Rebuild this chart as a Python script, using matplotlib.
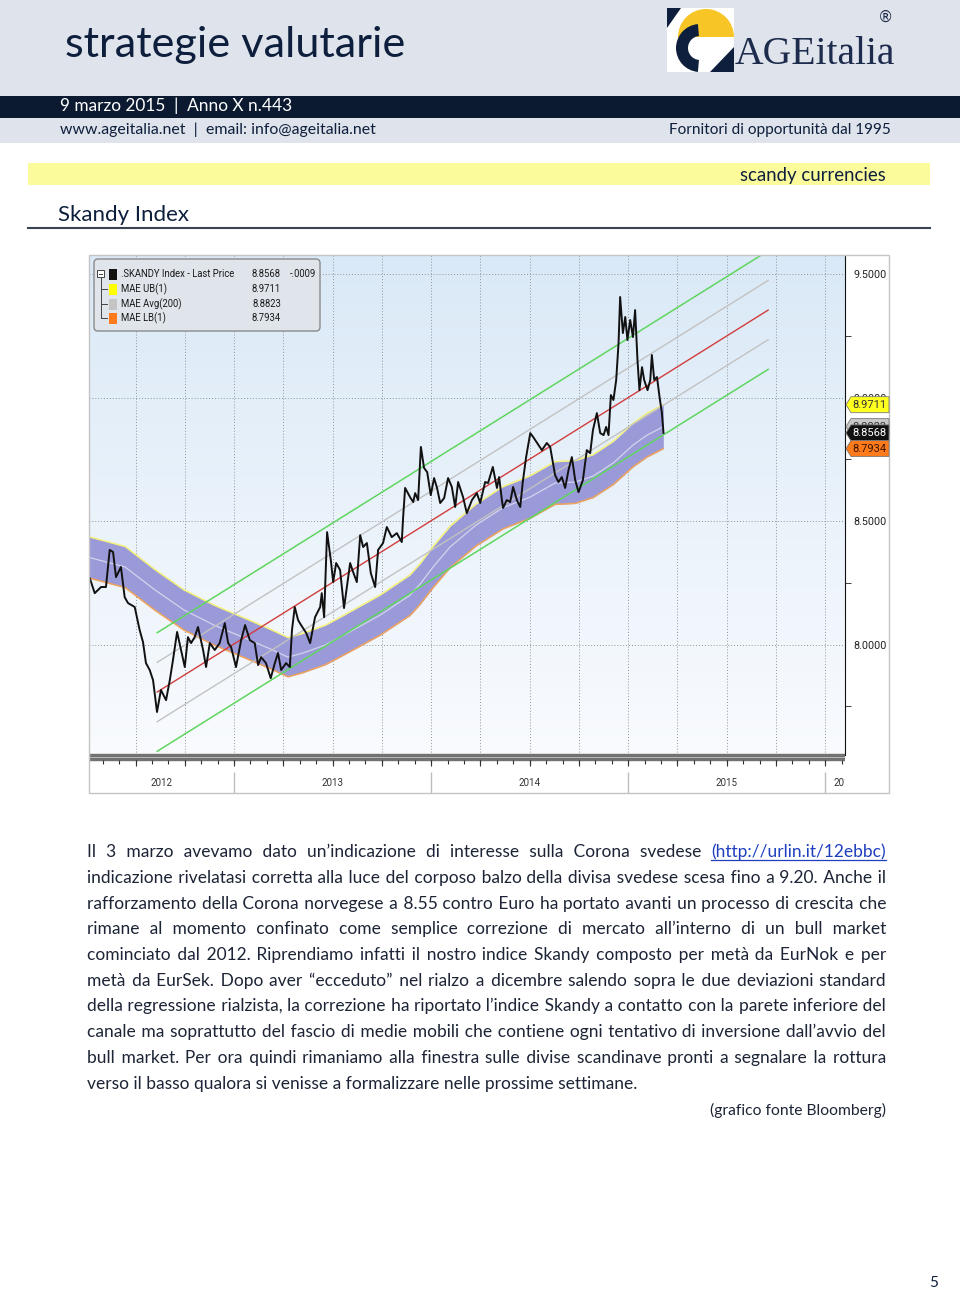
import numpy as np
import matplotlib
matplotlib.use("Agg")
import matplotlib.pyplot as plt
from matplotlib.colors import LinearSegmentedColormap
from matplotlib.patches import Rectangle, FancyBboxPatch, Wedge, Polygon

# ---------------------------------------------------------------
# Data (decimal year, index level)
# ---------------------------------------------------------------
skandy = [
    (2012.268, 8.269), (2012.293, 8.208), (2012.325, 8.233), (2012.350, 8.233),
    (2012.369, 8.383), (2012.386, 8.375), (2012.401, 8.273), (2012.426, 8.314),
    (2012.445, 8.192), (2012.462, 8.168), (2012.496, 8.152), (2012.521, 8.059),
    (2012.538, 8.010), (2012.553, 7.925), (2012.572, 7.897), (2012.589, 7.856),
    (2012.609, 7.727), (2012.629, 7.816), (2012.655, 7.775), (2012.674, 7.856),
    (2012.690, 7.937), (2012.711, 8.051), (2012.731, 7.978), (2012.750, 7.909),
    (2012.766, 8.030), (2012.782, 8.006), (2012.800, 8.030), (2012.817, 8.071),
    (2012.843, 7.978), (2012.858, 7.909), (2012.877, 8.006), (2012.902, 7.978),
    (2012.927, 8.006), (2012.953, 8.087), (2012.970, 8.006), (2012.985, 7.990),
    (2013.010, 7.909), (2013.036, 8.018), (2013.056, 8.079), (2013.080, 8.018),
    (2013.105, 8.006), (2013.122, 7.917), (2013.137, 7.949), (2013.162, 7.925),
    (2013.186, 7.864), (2013.207, 7.925), (2013.223, 7.966), (2013.239, 7.897),
    (2013.264, 7.925), (2013.283, 7.909), (2013.294, 8.059), (2013.308, 8.152),
    (2013.325, 8.099), (2013.340, 8.079), (2013.366, 8.047), (2013.386, 8.006),
    (2013.411, 8.111), (2013.437, 8.152), (2013.445, 8.208), (2013.457, 8.111),
    (2013.472, 8.455), (2013.491, 8.342), (2013.503, 8.253), (2013.518, 8.330),
    (2013.538, 8.302), (2013.558, 8.148), (2013.572, 8.229), (2013.589, 8.330),
    (2013.604, 8.294), (2013.623, 8.253), (2013.640, 8.443), (2013.655, 8.395),
    (2013.674, 8.411), (2013.694, 8.289), (2013.716, 8.233), (2013.731, 8.383),
    (2013.756, 8.411), (2013.775, 8.476), (2013.800, 8.435), (2013.826, 8.451),
    (2013.851, 8.415), (2013.858, 8.516), (2013.868, 8.634), (2013.893, 8.597),
    (2013.909, 8.577), (2013.919, 8.613), (2013.934, 8.585), (2013.948, 8.800),
    (2013.964, 8.715), (2013.980, 8.698), (2013.998, 8.605), (2014.015, 8.674),
    (2014.030, 8.634), (2014.046, 8.573), (2014.066, 8.593), (2014.086, 8.674),
    (2014.105, 8.638), (2014.122, 8.557), (2014.137, 8.658), (2014.162, 8.597),
    (2014.181, 8.532), (2014.207, 8.585), (2014.232, 8.613), (2014.249, 8.573),
    (2014.274, 8.658), (2014.289, 8.654), (2014.313, 8.719), (2014.334, 8.634),
    (2014.345, 8.678), (2014.359, 8.585), (2014.365, 8.553), (2014.384, 8.585),
    (2014.401, 8.577), (2014.416, 8.638), (2014.435, 8.585), (2014.452, 8.557),
    (2014.465, 8.658), (2014.482, 8.759), (2014.503, 8.856), (2014.518, 8.840),
    (2014.538, 8.816), (2014.562, 8.787), (2014.587, 8.816), (2014.604, 8.800),
    (2014.618, 8.735), (2014.629, 8.686), (2014.646, 8.658), (2014.663, 8.678),
    (2014.680, 8.634), (2014.697, 8.706), (2014.714, 8.759), (2014.731, 8.666),
    (2014.748, 8.617), (2014.770, 8.666), (2014.790, 8.787), (2014.807, 8.775),
    (2014.821, 8.868), (2014.841, 8.937), (2014.858, 8.856), (2014.875, 8.848),
    (2014.888, 8.881), (2014.900, 8.848), (2014.912, 9.010), (2014.925, 8.990),
    (2014.939, 9.071), (2014.951, 9.221), (2014.959, 9.407), (2014.973, 9.261),
    (2014.985, 9.326), (2014.996, 9.233), (2015.010, 9.314), (2015.024, 9.245),
    (2015.035, 9.354), (2015.047, 9.152), (2015.057, 9.030), (2015.070, 9.123),
    (2015.081, 9.071), (2015.098, 9.030), (2015.112, 9.071), (2015.120, 9.172),
    (2015.132, 9.071), (2015.146, 9.083), (2015.159, 9.002), (2015.171, 8.937),
    (2015.179, 8.857),
]

# MAE Avg(200) with the +/-1% envelope (UB(1) / LB(1))
mae_avg = [
    (2012.259, 8.354), (2012.447, 8.314), (2012.599, 8.221), (2012.746, 8.140),
    (2012.898, 8.079), (2013.056, 8.026), (2013.173, 7.986), (2013.274, 7.949),
    (2013.350, 7.966), (2013.462, 7.998), (2013.538, 8.030), (2013.741, 8.119),
    (2013.893, 8.200), (2013.944, 8.245), (2014.010, 8.314), (2014.096, 8.395),
    (2014.228, 8.484), (2014.365, 8.554), (2014.502, 8.597), (2014.629, 8.654),
    (2014.731, 8.658), (2014.822, 8.682), (2014.924, 8.735), (2015.025, 8.808),
    (2015.096, 8.848), (2015.178, 8.882),
]
mae_pct = 0.01

# regression channel: centre line, +/-1 and +/-2 standard deviations
reg_t = [2012.61, 2015.71]
reg_mid = [7.808, 9.354]
reg_sd = 0.12

price_ticks = [8.0, 8.5, 9.0, 9.5]
price_minor = [7.75, 8.25, 8.75, 9.25]
years = [2012, 2013, 2014, 2015, 2016]

legend_names = [".SKANDY Index - Last Price", "MAE UB(1)", "MAE Avg(200)", "MAE LB(1)"]
legend_values = ["8.8568", "8.9711", "8.8823", "8.7934"]
legend_colors = ["#111111", "#ffff00", "#c4c4c4", "#ff7a1a"]
last_change = "-.0009"

# right-hand value tags (drawn in this order, last on top)
tag_values = [8.8823, 8.9711, 8.8568, 8.7934]
tag_fills = ["#c8c8c8", "#ffff20", "#111111", "#ff7a1a"]
tag_text = ["#333333", "#333333", "#ffffff", "#3a1500"]

body_lines = [
    "Il 3 marzo avevamo dato un’indicazione di interesse sulla Corona svedese (http://urlin.it/12ebbc)",
    "indicazione rivelatasi corretta alla luce del corposo balzo della divisa svedese scesa fino a 9.20. Anche il",
    "rafforzamento della Corona norvegese a 8.55 contro Euro ha portato avanti un processo di crescita che",
    "rimane al momento confinato come semplice correzione di mercato all’interno di un bull market",
    "cominciato dal 2012. Riprendiamo infatti il nostro indice Skandy composto per metà da EurNok e per",
    "metà da EurSek. Dopo aver “ecceduto” nel rialzo a dicembre salendo sopra le due deviazioni standard",
    "della regressione rialzista, la correzione ha riportato l’indice Skandy a contatto con la parete inferiore del",
    "canale ma soprattutto del fascio di medie mobili che contiene ogni tentativo di inversione dall’avvio del",
    "bull market. Per ora quindi rimaniamo alla finestra sulle divise scandinave pronti a segnalare la rottura",
    "verso il basso qualora si venisse a formalizzare nelle prossime settimane.",
]
link_text = "(http://urlin.it/12ebbc)"

# ---------------------------------------------------------------
W, H = 960, 1290
NAVY = "#0d1f3c"
NARROW = "Roboto"
SANS = "Lato"
BODY_FAM = ["Lato", "DejaVu Sans"]
HAIR = "\u200a"

fig = plt.figure(figsize=(W / 100, H / 100), dpi=100, facecolor="white")
renderer = fig.canvas.get_renderer()


def frac(x0, y0, x1, y1):
    return [x0 / W, 1 - y1 / H, (x1 - x0) / W, (y1 - y0) / H]


def width_of(s, **kw):
    t = fig.text(0, 0, s, **kw)
    w = t.get_window_extent(renderer).width
    t.remove()
    return w


def size_for(s, width, family, base=12, **kw):
    return base * width / width_of(s, fontsize=base, family=family, **kw)


# ---------------- chart area ----------------
t0, t1 = 2012.264, 2016.10
ax = fig.add_axes(frac(89, 255, 845, 755))
grad = LinearSegmentedColormap.from_list("bg", ["#f9fbfe", "#dae9f7"])
ax.imshow(np.linspace(0, 1, 256).reshape(-1, 1), cmap=grad, origin="lower",
          extent=[0, 1, 0, 1], transform=ax.transAxes, aspect="auto", zorder=0)
ax.set_xlim(t0, t1)
ax.set_ylim(7.553, 9.577)

quarters = np.arange(2012.5, t1, 0.25)
for q in quarters:
    ax.axvline(q, color="#8e959c", lw=0.7, ls=(0, (1, 2)), zorder=1)
for p in price_ticks:
    ax.axhline(p, color="#8e959c", lw=0.7, ls=(0, (1, 2)), zorder=1)

ma_t = np.array([p[0] for p in mae_avg])
ma_v = np.array([p[1] for p in mae_avg])
ub, lb = ma_v * (1 + mae_pct), ma_v * (1 - mae_pct)
ax.fill_between(ma_t, lb, ub, color="#9a9ad9", lw=0, zorder=2)
ax.plot(ma_t, ub, color="#f4f07a", lw=1.1, zorder=2.2)
ax.plot(ma_t, lb, color="#f0a35a", lw=1.1, zorder=2.2)
ax.plot(ma_t, ma_v, color="#d4d4ec", lw=0.9, zorder=2.2)

rt, rm = np.array(reg_t), np.array(reg_mid)
for k, col, lw in [(2, "#5fd65f", 1.1), (1, "#c2c2c2", 1.0), (0, "#d23c3c", 1.0),
                   (-1, "#c2c2c2", 1.0), (-2, "#5fd65f", 1.1)]:
    ax.plot(rt, rm + k * reg_sd, color=col, lw=lw, zorder=3)

px_t = [p[0] for p in skandy]
px_v = [p[1] for p in skandy]
ax.plot(px_t, px_v, color="#111111", lw=1.4, zorder=4)

for s in ["top", "bottom", "left"]:
    ax.spines[s].set_visible(False)
ax.spines["right"].set_color("#111111")
ax.set_xticks([])
ax.yaxis.tick_right()
ax.set_yticks(price_ticks)
lab_fs = size_for("9.5000", 33, NARROW)
ax.set_yticklabels([f"{p:.4f}" for p in price_ticks])
for lab in ax.get_yticklabels():
    lab.set_family(NARROW)
    lab.set_fontsize(lab_fs)
    lab.set_color("#222222")
ax.set_yticks(price_minor, minor=True)
ax.tick_params(axis="y", which="major", length=0, pad=6)
ax.tick_params(axis="y", which="minor", length=4, color="#222222")

# date strip under the plot
axd = fig.add_axes(frac(89, 753, 845, 793))
axd.set_xlim(t0, t1)
axd.set_ylim(793, 753)
axd.axis("off")
axd.axhspan(754, 760, color="#727272")
axd.axhline(757, color="#d6d6d6", lw=0.5)
months = np.arange(2012 + 4 / 12, t1, 1 / 12)
axd.vlines(months, 760, 764, color="#333333", lw=0.8)
axd.vlines(quarters, 760, 766, color="#333333", lw=0.8)
axd.vlines([y for y in years if t0 < y < t1], 772, 793, color="#bdbdbd", lw=1)
yr_fs = size_for("2012", 22, NARROW)
for y in years:
    lo, hi = max(y, t0), min(y + 1, t1 + 0.1)
    axd.text((lo + hi) / 2, 783, str(y), ha="center", va="center", fontsize=yr_fs,
             family=NARROW, color="#333333", clip_on=True)

# ---------------- page overlay ----------------
page = fig.add_axes([0, 0, 1, 1], zorder=10)
page.set_xlim(0, W)
page.set_ylim(H, 0)
page.axis("off")


def fitted(s, x, y, width, family=SANS, ha="left", color=NAVY, **kw):
    fs = size_for(s, width, family, **kw)
    return page.text(x, y, s, fontsize=fs, family=family, ha=ha, va="center",
                     color=color, **kw)


# header
page.add_patch(Rectangle((0, 0), W, 96, fc="#dfe3eb", ec="none"))
page.add_patch(Rectangle((0, 96), W, 22, fc="#0b1a31", ec="none"))
page.add_patch(Rectangle((0, 118), W, 25, fc="#dfe3eb", ec="none"))
fitted("strategie valutarie", 65, 45, 340)
fitted("9 marzo 2015  |  Anno X n.443", 60, 106, 231, color="white")
fitted("www.ageitalia.net  |  email: info@ageitalia.net", 60, 130, 314)
fitted("Fornitori di opportunità dal 1995", 891, 130, 221, ha="right")

# logo
page.add_patch(Rectangle((667, 8), 67, 64, fc="white", ec="none"))
page.add_patch(Wedge((706, 37), 28, 180, 360, fc="#f7c526", ec="none"))
page.add_patch(Wedge((700, 48), 24, 95, 265, width=12, fc=NAVY, ec="none"))
page.add_patch(Polygon([(710, 72), (734, 72), (734, 47)], fc=NAVY, ec="none"))
page.add_patch(Polygon([(667, 8), (681, 8), (667, 28)], fc=NAVY, ec="none"))
fitted("AGEitalia", 735, 55, 160, family="Liberation Serif", color="#1d2b4c")
page.text(885, 17, "®", fontsize=11, ha="center", va="center", color="#1d2b4c")

# section heading
page.add_patch(Rectangle((28, 163), 902, 22, fc="#fbfb9c", ec="none"))
fitted("scandy currencies", 886, 175, 146, ha="right")
fitted("Skandy Index", 58, 215, 130)
page.plot([28, 930], [228, 228], color="#3a4352", lw=1.5)

# chart frame
page.add_patch(Rectangle((89, 255), 800, 538, fill=False, ec="#c4c4c4", lw=1))

# legend box
page.add_patch(FancyBboxPatch((94, 259), 226, 72, boxstyle="round,pad=0,rounding_size=4",
                              fc="#e0e5eb", ec="#8a8a8a", lw=1))
leg_fs = min(size_for(legend_names[0], 122, NARROW), size_for("8.8568", 29, NARROW))
rows_y = [274, 289, 304, 318]
page.add_patch(Rectangle((97, 270), 7, 7, fc="white", ec="#444444", lw=0.7))
page.plot([99, 102], [273.5, 273.5], color="#444444", lw=0.7)
page.plot([100.5, 100.5], [277, rows_y[-1]], color="#444444", lw=0.7)
for y in rows_y[1:]:
    page.plot([100.5, 107], [y, y], color="#444444", lw=0.7)
for y, name, val, col in zip(rows_y, legend_names, legend_values, legend_colors):
    page.add_patch(Rectangle((109, y - 5.5), 8, 11, fc=col, ec="none"))
    page.text(121, y, name, fontsize=leg_fs, family=NARROW, va="center", color="#1a1a1a")
    page.text(281, y, val, fontsize=leg_fs, family=NARROW, va="center", ha="right",
              color="#1a1a1a")
page.text(316, rows_y[0], last_change, fontsize=leg_fs, family=NARROW, va="center",
          ha="right", color="#1a1a1a")

# value tags on the right axis (each tag covers the ones drawn before it)
tag_fs = size_for("8.9711", 34, NARROW)
for i, (val, fc, tc) in enumerate(zip(tag_values, tag_fills, tag_text)):
    yc = H - ax.transData.transform((t0, val))[1]
    page.add_patch(Polygon([(846, yc), (851, yc - 8), (889, yc - 8), (889, yc + 8),
                            (851, yc + 8)], fc=fc, ec="#7a7a7a", lw=0.6, zorder=5 + 2 * i))
    page.text(852, yc + 0.5, f"{val:.4f}", fontsize=tag_fs, family=NARROW,
              va="center", color=tc, zorder=6 + 2 * i)

# body text, justified between x=87 and x=886 (one text per line,
# inter-word gaps widened with hair spaces)
body_left, body_right = 87, 886
nat = [width_of(l, fontsize=12, family=BODY_FAM) for l in body_lines[:-1]]
body_fs = min(13.5, 12 * (body_right - body_left) / max(nat) * 0.985)
hair_w = (width_of("a" + HAIR * 10 + "a", fontsize=body_fs, family=BODY_FAM)
          - width_of("aa", fontsize=body_fs, family=BODY_FAM)) / 10


def justify(words, width):
    natural = width_of(" ".join(words), fontsize=body_fs, family=BODY_FAM)
    extra = max(0.0, width - natural)
    n = len(words) - 1
    out, used = words[0], 0
    for g in range(1, n + 1):
        want = int(round(extra * g / n / hair_w)) - used
        used += want
        out += " " + HAIR * want + words[g]
    return out


link_col = "#1f3fbf"
for i, line in enumerate(body_lines):
    yb = 857 + i * 25.75
    words = line.split()
    last = i == len(body_lines) - 1
    if link_text in words:
        lw_ = width_of(link_text, fontsize=body_fs, family=BODY_FAM)
        rest = words[:-1]
        sp = width_of("a a", fontsize=body_fs, family=BODY_FAM) - width_of("aa", fontsize=body_fs, family=BODY_FAM)
        nat_rest = width_of(" ".join(rest), fontsize=body_fs, family=BODY_FAM)
        gap = (body_right - body_left - lw_ - nat_rest) / len(rest) + sp
        s = justify(rest, body_right - body_left - lw_ - gap)
        page.text(body_left, yb, s, fontsize=body_fs, family=BODY_FAM, va="baseline",
                  color="#1c2435")
        page.text(body_right, yb, link_text, fontsize=body_fs, family=BODY_FAM,
                  va="baseline", ha="right", color=link_col)
        page.plot([body_right - lw_, body_right], [yb + 2.5, yb + 2.5], color=link_col, lw=0.9)
        continue
    s = line if last else justify(words, body_right - body_left)
    page.text(body_left, yb, s, fontsize=body_fs, family=BODY_FAM, va="baseline",
              color="#1c2435")

fitted("(grafico fonte Bloomberg)", 886, 1110, 176, ha="right", color="#1c2435")
page.text(934, 1283, "5", fontsize=11, family=SANS, ha="center", va="center", color=NAVY)

fig.savefig("out.png", dpi=100, facecolor="white")
